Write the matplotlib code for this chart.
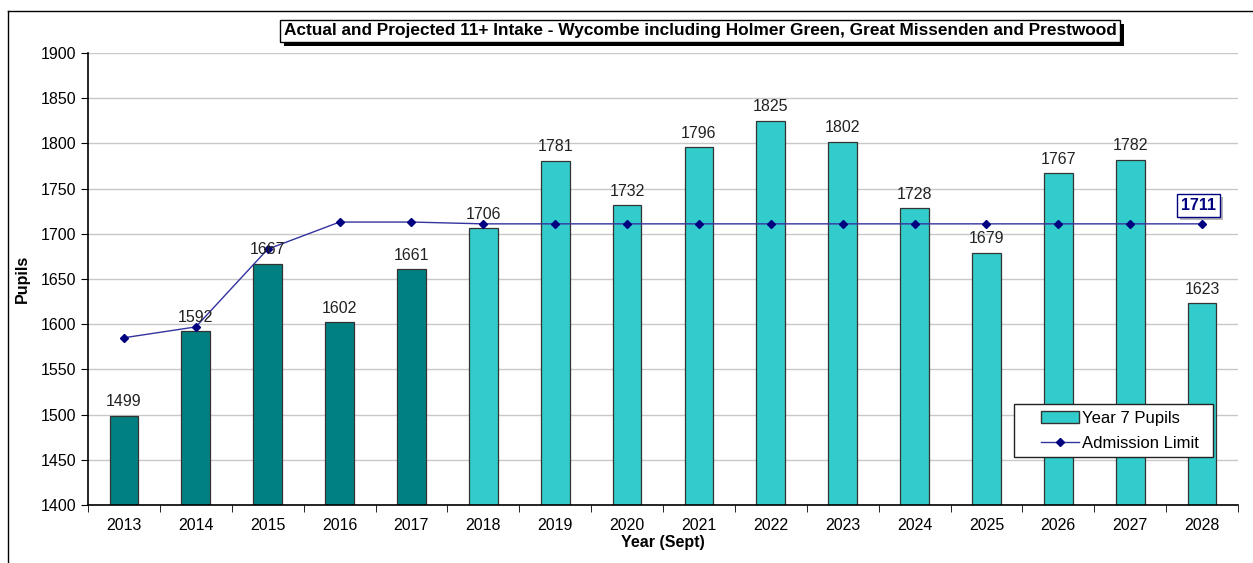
import numpy as np
import matplotlib
matplotlib.use("Agg")
import matplotlib.pyplot as plt
import matplotlib.patheffects as pe
from matplotlib.lines import Line2D
from matplotlib.patches import Patch, Rectangle

plt.rcParams['font.family'] = ['Liberation Sans', 'DejaVu Sans']

years = [str(y) for y in range(2013, 2029)]
pupils = [1499, 1592, 1667, 1602, 1661, 1706, 1781, 1732, 1796, 1825, 1802, 1728, 1679, 1767, 1782, 1623]
admission = [1585, 1597, 1683, 1713, 1713, 1711, 1711, 1711, 1711, 1711, 1711, 1711, 1711, 1711, 1711, 1711]
n_actual = 5  # 2013-2017 are actual intake

fig = plt.figure(figsize=(12.53, 5.63), dpi=100)
ax = fig.add_axes([88/1253, 1 - 505/563, (1238 - 88)/1253, (505 - 53)/563])

x = np.arange(len(years))
colors = ['#008080'] * n_actual + ['#33CCCC'] * (len(years) - n_actual)
ax.bar(x, pupils, width=0.4, color=colors, edgecolor='#333333', linewidth=0.9, zorder=2)

line, = ax.plot(x, admission, color='#3333A0', linewidth=1, marker='D', markersize=4.5,
                markerfacecolor='#000080', markeredgecolor='#000080', zorder=3)

for xi, v in zip(x, pupils):
    ax.text(xi, v + 7, str(v), ha='center', va='bottom', fontsize=11.5, color='#222222', zorder=4)

# last admission value label
t = ax.text(x[-1] - 0.05, admission[-1] + 12, str(admission[-1]), ha='center', va='bottom',
            fontsize=11.5, fontweight='bold', color='#000080', zorder=5,
            bbox=dict(boxstyle='square,pad=0.25', facecolor='white', edgecolor='#000080', linewidth=1))
t.get_bbox_patch().set_path_effects([pe.withSimplePatchShadow(offset=(2, -2), shadow_rgbFace='#888888', alpha=0.6)])

ax.set_ylim(1400, 1900)
ax.set_xlim(-0.5, len(years) - 0.5)
ax.set_yticks(np.arange(1400, 1901, 50))
ax.set_xticks(x)
ax.set_xticklabels(years)
ax.set_xticks(np.arange(-0.5, len(years)), minor=True)
ax.tick_params(axis='x', which='major', length=0, labelsize=11.5, pad=9)
ax.tick_params(axis='x', which='minor', length=5, direction='out')
ax.tick_params(axis='y', length=5, direction='out', labelsize=11.5)
ax.yaxis.grid(True, color='#c8c8c8', linewidth=1)
ax.set_axisbelow(True)
for s in ['top', 'right']:
    ax.spines[s].set_visible(False)
for s in ['left', 'bottom']:
    ax.spines[s].set_linewidth(1.2)

ax.set_ylabel('Pupils', fontsize=11.5, fontweight='bold', labelpad=8)
ax.set_xlabel('Year (Sept)', fontsize=11.5, fontweight='bold', labelpad=2)

# legend: frame drawn separately so the entries can sit inset from its left edge
axw, axh = 1150, 452
frame = Rectangle(((1014 - 88)/axw, (505 - 457)/axh), 199/axw, 53/axh, transform=ax.transAxes,
                  facecolor='white', edgecolor='#222222', linewidth=1, zorder=6)
ax.add_patch(frame)
handles = [Patch(facecolor='#33CCCC', edgecolor='#333333', linewidth=1), line]
leg = ax.legend(handles, ['Year 7 Pupils', 'Admission Limit'], loc='upper left',
                bbox_to_anchor=((1041 - 88)/axw, (505 - 411)/axh),
                fontsize=12, frameon=False, borderpad=0, borderaxespad=0,
                handlelength=2.3, handletextpad=0.15, labelspacing=0.6)
leg.set_zorder(7)

title = fig.text(700/1253, 1 - 31/563,
                 'Actual and Projected 11+ Intake - Wycombe including Holmer Green, Great Missenden and Prestwood',
                 ha='center', va='center', fontsize=12.4, fontweight='bold',
                 bbox=dict(boxstyle='square,pad=0.22', facecolor='white', edgecolor='black', linewidth=1))
title.get_bbox_patch().set_path_effects([pe.withSimplePatchShadow(offset=(3, -3), shadow_rgbFace='black', alpha=1)])

# outer chart frame
fig.add_artist(Line2D([8/1253, 8/1253], [0, 1 - 11/563], color='black', linewidth=1, transform=fig.transFigure))
fig.add_artist(Line2D([8/1253, 1], [1 - 11/563, 1 - 11/563], color='black', linewidth=1, transform=fig.transFigure))

fig.savefig('out.png', dpi=100)
